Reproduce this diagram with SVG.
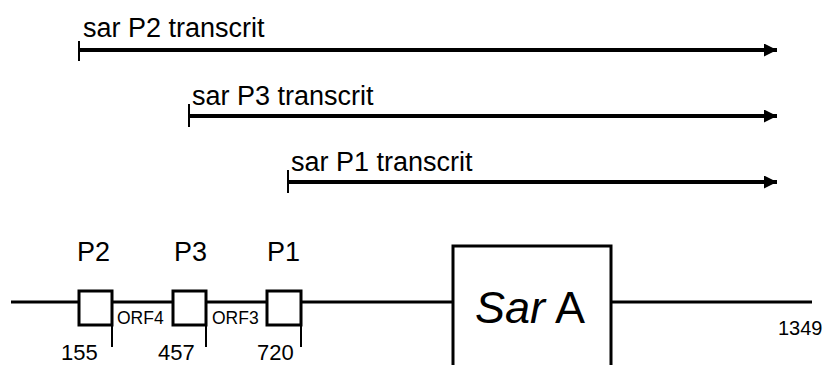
<svg xmlns="http://www.w3.org/2000/svg" width="828" height="365" viewBox="0 0 828 365">
<style>
text{font-family:"Liberation Sans",Arial,sans-serif;fill:#000}
.t{stroke:#000;stroke-width:4;fill:none}
.tick{stroke:#000;stroke-width:2;fill:none}
.box{stroke:#000;stroke-width:3;fill:#fff}
.tr{font-size:27px}
.lbl{font-size:27px}
.orf{font-size:17.5px}
.num{font-size:22px}
</style>
<defs>
<marker id="ah" markerUnits="userSpaceOnUse" markerWidth="14" markerHeight="14" refX="13" refY="6.5" orient="auto">
<path d="M0,0 L13,6.5 L0,13 Z" fill="#000"/>
</marker>
</defs>
<g id="connectors">
<line class="t" x1="79" y1="50" x2="777" y2="50" marker-end="url(#ah)"/>
<line class="tick" x1="79" y1="41" x2="79" y2="61"/>
<line class="t" x1="189" y1="116" x2="777" y2="116" marker-end="url(#ah)"/>
<line class="tick" x1="189" y1="104" x2="189" y2="127"/>
<line class="t" x1="288" y1="182" x2="777" y2="182" marker-end="url(#ah)"/>
<line class="tick" x1="288" y1="170" x2="288" y2="193"/>
<line x1="11" y1="302" x2="812" y2="302" stroke="#000" stroke-width="3"/>
<line class="tick" x1="112" y1="325" x2="112" y2="347"/>
<line class="tick" x1="206" y1="325" x2="206" y2="347"/>
<line class="tick" x1="301" y1="325" x2="301" y2="347"/>
</g>
<g id="transcript-p2"><text class="tr" x="83" y="37">sar P2 transcrit</text></g>
<g id="transcript-p3"><text class="tr" x="192" y="105">sar P3 transcrit</text></g>
<g id="transcript-p1"><text class="tr" x="291" y="171">sar P1 transcrit</text></g>
<g id="p2">
<rect class="box" x="79" y="291" width="33" height="34"/>
<text class="lbl" x="77" y="261">P2</text>
<text class="num" x="61" y="360">155</text>
</g>
<g id="orf4"><text class="orf" x="117" y="324">ORF4</text></g>
<g id="p3">
<rect class="box" x="173" y="291" width="33" height="34"/>
<text class="lbl" x="174" y="261">P3</text>
<text class="num" x="158" y="360">457</text>
</g>
<g id="orf3"><text class="orf" x="212" y="324">ORF3</text></g>
<g id="p1">
<rect class="box" x="267" y="291" width="34" height="34"/>
<text class="lbl" x="267" y="261">P1</text>
<text class="num" x="257" y="360">720</text>
</g>
<g id="sarA">
<rect class="box" x="453" y="246" width="158" height="125"/>
<text x="475" y="323" font-size="45"><tspan font-style="italic">Sar</tspan> A</text>
</g>
<g id="end"><text x="778" y="335" font-size="20">1349</text></g>
</svg>
